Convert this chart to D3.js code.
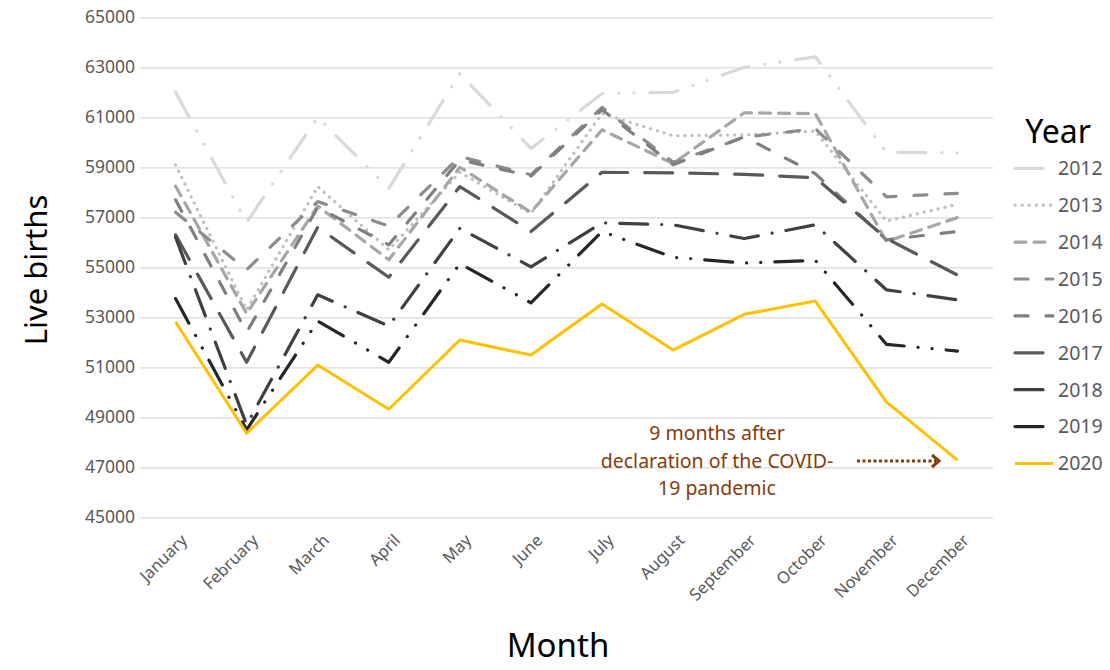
<!DOCTYPE html>
<html>
<head>
<meta charset="utf-8">
<script src="https://cdn.jsdelivr.net/npm/d3@7"></script>
<style>
  body { margin: 0; background: #fff; }
  text { font-family: 'Noto Sans', sans-serif; }
</style>
</head>
<body>
<svg id="chart" width="1110" height="670"></svg>
<script>
// data
const months = ["January", "February", "March", "April", "May", "June",
  "July", "August", "September", "October", "November", "December"];
const years = ["2012", "2013", "2014", "2015", "2016", "2017", "2018", "2019", "2020"];
const yTicks = [45000, 47000, 49000, 51000, 53000, 55000, 57000, 59000, 61000, 63000, 65000];

const births2012 = [62000, 56800, 61000, 58150, 62750, 59750, 61950, 62000, 63000, 63420, 59600, 59580];
const births2013 = [59100, 53300, 58230, 55700, 58800, 57150, 61150, 60260, 60300, 60450, 56850, 57520];
const births2014 = [58250, 53150, 57450, 55300, 59000, 57200, 60500, 59150, 61180, 61150, 56030, 56990];
const births2015 = [57200, 54900, 57630, 56650, 59430, 58700, 61400, 59200, 60200, 60550, 57820, 57960];
const births2016 = [57700, 52400, 57400, 55900, 59300, 58650, 61300, 59100, 60220, 58750, 56100, 56430];
const births2017 = [56300, 51200, 56600, 54600, 58230, 56430, 58800, 58780, 58720, 58580, 56150, 54690];
const births2018 = [56200, 48700, 53900, 52650, 56560, 55020, 56780, 56700, 56150, 56700, 54100, 53700];
const births2019 = [53750, 48500, 52850, 51200, 55150, 53580, 56430, 55400, 55170, 55280, 51920, 51650];
const births2020 = [52820, 48360, 51090, 49320, 52090, 51490, 53530, 51690, 53120, 53650, 49620, 47290];

const noteLines = ["9 months after", "declaration of the COVID-", "19 pandemic"];

// styles
const colors = ["#d9d9d9", "#bfbfbf", "#a6a6a6", "#8c8c8c", "#7f7f7f", "#595959", "#404040", "#262626", "#ffc000"];
const dashes = ["28,16,0.1,15,0.1,16", "0.1,7", "11,8", "13,18", "13,18", "28,17", "28,14,0.1,14", "28,14,0.1,14,0.1,14", null];

const series = years.map((yr, i) => ({
  year: yr,
  values: [births2012, births2013, births2014, births2015, births2016,
           births2017, births2018, births2019, births2020][i],
  color: colors[i],
  dash: dashes[i]
}));

const svg = d3.select("#chart");
const plotLeft = 140, plotRight = 993, plotTop = 17.3, plotBottom = 517.3;

const x = d3.scalePoint().domain(months).range([plotLeft, plotRight]).padding(0.5);
const y = d3.scaleLinear().domain([45000, 65000]).range([plotBottom, plotTop]);

// y axis with gridlines
const gy = svg.append("g")
  .attr("transform", `translate(${plotLeft},0)`)
  .call(d3.axisLeft(y).tickValues(yTicks).tickSize(-(plotRight - plotLeft)).tickPadding(5).tickFormat(d3.format("d")));
gy.select(".domain").remove();
gy.selectAll(".tick line").attr("stroke", "#d9d9d9").attr("stroke-width", 1.3);
gy.selectAll(".tick text").attr("fill", "#595959").style("font-size", "17.5px");

// x axis labels
const gx = svg.append("g")
  .attr("transform", `translate(0,${plotBottom})`)
  .call(d3.axisBottom(x).tickSize(0).tickPadding(0));
gx.select(".domain").remove();
gx.selectAll(".tick text")
  .attr("fill", "#595959")
  .style("font-size", "16.5px")
  .attr("text-anchor", "end")
  .attr("transform", "translate(8,20) rotate(-45)")
  .attr("dy", "0.35em")
  .attr("y", 0);

// lines
const line = d3.line()
  .x((d, i) => x(months[i]))
  .y(d => y(d));

svg.append("g").selectAll("path")
  .data(series)
  .join("path")
  .attr("d", d => line(d.values))
  .attr("fill", "none")
  .attr("stroke", d => d.color)
  .attr("stroke-width", d => d.year === "2020" ? 3 : 3.2)
  .attr("stroke-dasharray", d => d.dash)
  .attr("stroke-linecap", d => d.dash ? "round" : "butt")
  .attr("stroke-linejoin", "round");

// axis titles
svg.append("text")
  .attr("x", 558).attr("y", 657)
  .attr("text-anchor", "middle")
  .style("font-size", "33px")
  .text("Month");

svg.append("text")
  .attr("transform", "translate(47,270) rotate(-90)")
  .attr("text-anchor", "middle")
  .style("font-size", "31px")
  .text("Live births");

// legend
svg.append("text")
  .attr("x", 1058).attr("y", 143)
  .attr("text-anchor", "middle")
  .style("font-size", "32px")
  .text("Year");

const leg = svg.append("g").selectAll("g")
  .data(series)
  .join("g")
  .attr("transform", (d, i) => `translate(1015,${168.3 + i * 36.9})`);

leg.append("line")
  .attr("x1", 0).attr("x2", 38)
  .attr("stroke", d => d.color)
  .attr("stroke-width", d => d.year === "2020" ? 3 : 3.2)
  .attr("stroke-dasharray", d => d.dash)
  .attr("stroke-linecap", d => d.dash ? "round" : "butt");

leg.append("text")
  .attr("x", 43).attr("dy", "0.35em")
  .attr("fill", "#595959")
  .style("font-size", "19.5px")
  .text(d => d.year);

// annotation
const note = svg.append("g");
note.selectAll("text")
  .data(noteLines)
  .join("text")
  .attr("x", 717)
  .attr("y", (d, i) => 440 + i * 27.5)
  .attr("text-anchor", "middle")
  .attr("fill", "#843c0c")
  .style("font-size", "19.5px")
  .text(d => d);

note.append("line")
  .attr("x1", 857).attr("x2", 936)
  .attr("y1", 461).attr("y2", 461)
  .attr("stroke", "#843c0c")
  .attr("stroke-width", 3)
  .attr("stroke-dasharray", "3,2.5");

note.append("path")
  .attr("d", "M932,455 L939,461 L932,467")
  .attr("fill", "none")
  .attr("stroke", "#843c0c")
  .attr("stroke-width", 3);
</script>
</body>
</html>
